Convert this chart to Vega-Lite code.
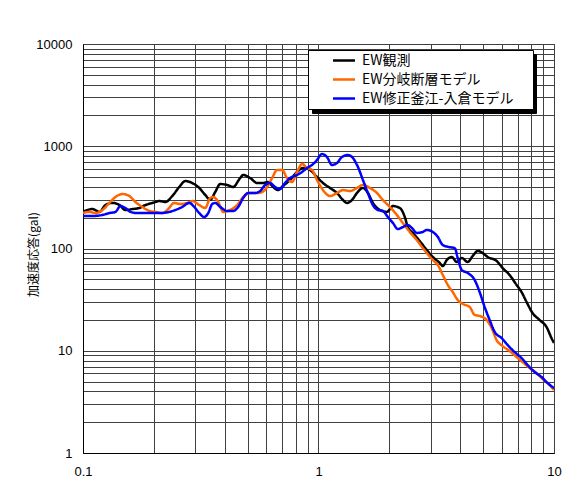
{
  "$schema": "https://vega.github.io/schema/vega-lite/v6.json",
  "width": 471,
  "height": 409,
  "autosize": {"type": "none"},
  "padding": {"left": 83, "top": 44, "right": 16, "bottom": 24},
  "background": "white",
  "config": {
    "view": {"stroke": "#404040", "strokeWidth": 1},
    "font": "Liberation Sans"
  },
  "data": {
    "values": [
      {"series": "EW観測", "period": 0.1, "acc": 229},
      {"series": "EW観測", "period": 0.1097, "acc": 243},
      {"series": "EW観測", "period": 0.1175, "acc": 228},
      {"series": "EW観測", "period": 0.1245, "acc": 266},
      {"series": "EW観測", "period": 0.1334, "acc": 279},
      {"series": "EW観測", "period": 0.1428, "acc": 266},
      {"series": "EW観測", "period": 0.1514, "acc": 238},
      {"series": "EW観測", "period": 0.1621, "acc": 243},
      {"series": "EW観測", "period": 0.1736, "acc": 249},
      {"series": "EW観測", "period": 0.184, "acc": 266},
      {"series": "EW観測", "period": 0.197, "acc": 279},
      {"series": "EW観測", "period": 0.2109, "acc": 291},
      {"series": "EW観測", "period": 0.2237, "acc": 285},
      {"series": "EW観測", "period": 0.2394, "acc": 326},
      {"series": "EW観測", "period": 0.2564, "acc": 400},
      {"series": "EW観測", "period": 0.2718, "acc": 457},
      {"series": "EW観測", "period": 0.2911, "acc": 437},
      {"series": "EW観測", "period": 0.3116, "acc": 391},
      {"series": "EW観測", "period": 0.3304, "acc": 334},
      {"series": "EW観測", "period": 0.3469, "acc": 300},
      {"series": "EW観測", "period": 0.3643, "acc": 357},
      {"series": "EW観測", "period": 0.3826, "acc": 427},
      {"series": "EW観測", "period": 0.4097, "acc": 418},
      {"series": "EW観測", "period": 0.4342, "acc": 400},
      {"series": "EW観測", "period": 0.4649, "acc": 489},
      {"series": "EW観測", "period": 0.4788, "acc": 523},
      {"series": "EW観測", "period": 0.5126, "acc": 489},
      {"series": "EW観測", "period": 0.5488, "acc": 437},
      {"series": "EW観測", "period": 0.5818, "acc": 437},
      {"series": "EW観測", "period": 0.6109, "acc": 447},
      {"series": "EW観測", "period": 0.6415, "acc": 400},
      {"series": "EW観測", "period": 0.6733, "acc": 373},
      {"series": "EW観測", "period": 0.707, "acc": 409},
      {"series": "EW観測", "period": 0.757, "acc": 468},
      {"series": "EW観測", "period": 0.8107, "acc": 560},
      {"series": "EW観測", "period": 0.8597, "acc": 613},
      {"series": "EW観測", "period": 0.9204, "acc": 586},
      {"series": "EW観測", "period": 0.9854, "acc": 500},
      {"series": "EW観測", "period": 1.0449, "acc": 437},
      {"series": "EW観測", "period": 1.1187, "acc": 391},
      {"series": "EW観測", "period": 1.1982, "acc": 349},
      {"series": "EW観測", "period": 1.2705, "acc": 298},
      {"series": "EW観測", "period": 1.3212, "acc": 279},
      {"series": "EW観測", "period": 1.3868, "acc": 298},
      {"series": "EW観測", "period": 1.4561, "acc": 349},
      {"series": "EW観測", "period": 1.544, "acc": 391},
      {"series": "EW観測", "period": 1.6209, "acc": 349},
      {"series": "EW観測", "period": 1.7022, "acc": 279},
      {"series": "EW観測", "period": 1.8226, "acc": 238},
      {"series": "EW観測", "period": 1.9516, "acc": 228},
      {"series": "EW観測", "period": 2.0688, "acc": 260},
      {"series": "EW観測", "period": 2.2148, "acc": 249},
      {"series": "EW観測", "period": 2.3256, "acc": 203},
      {"series": "EW観測", "period": 2.3947, "acc": 162},
      {"series": "EW観測", "period": 2.5147, "acc": 142},
      {"series": "EW観測", "period": 2.6924, "acc": 118},
      {"series": "EW観測", "period": 2.8826, "acc": 96.7},
      {"series": "EW観測", "period": 3.0573, "acc": 82.6},
      {"series": "EW観測", "period": 3.2734, "acc": 72.2},
      {"series": "EW観測", "period": 3.3709, "acc": 67.4},
      {"series": "EW観測", "period": 3.5054, "acc": 77.2},
      {"series": "EW観測", "period": 3.6807, "acc": 82.6},
      {"series": "EW観測", "period": 3.8637, "acc": 73.8},
      {"series": "EW観測", "period": 4.057, "acc": 80.8},
      {"series": "EW観測", "period": 4.3011, "acc": 73.8},
      {"series": "EW観測", "period": 4.5157, "acc": 84.5},
      {"series": "EW観測", "period": 4.741, "acc": 94.5},
      {"series": "EW観測", "period": 4.9774, "acc": 90.4},
      {"series": "EW観測", "period": 5.2267, "acc": 82.6},
      {"series": "EW観測", "period": 5.7071, "acc": 75.5},
      {"series": "EW観測", "period": 6.0506, "acc": 64.5},
      {"series": "EW観測", "period": 6.4775, "acc": 55.1},
      {"series": "EW観測", "period": 6.9357, "acc": 44.0},
      {"series": "EW観測", "period": 7.283, "acc": 37.5},
      {"series": "EW観測", "period": 7.6468, "acc": 30.0},
      {"series": "EW観測", "period": 8.1075, "acc": 23.4},
      {"series": "EW観測", "period": 8.6806, "acc": 20.0},
      {"series": "EW観測", "period": 9.2932, "acc": 17.1},
      {"series": "EW観測", "period": 9.7592, "acc": 13.3},
      {"series": "EW観測", "period": 10, "acc": 11.9},

      {"series": "EW分岐断層モデル", "period": 0.1, "acc": 222},
      {"series": "EW分岐断層モデル", "period": 0.1065, "acc": 228},
      {"series": "EW分岐断層モデル", "period": 0.113, "acc": 222},
      {"series": "EW分岐断層モデル", "period": 0.121, "acc": 238},
      {"series": "EW分岐断層モデル", "period": 0.1295, "acc": 279},
      {"series": "EW分岐断層モデル", "period": 0.1373, "acc": 319},
      {"series": "EW分岐断層モデル", "period": 0.147, "acc": 341},
      {"series": "EW分岐断層モデル", "period": 0.1574, "acc": 326},
      {"series": "EW分岐断層モデル", "period": 0.1669, "acc": 285},
      {"series": "EW分岐断層モデル", "period": 0.1787, "acc": 255},
      {"series": "EW分岐断層モデル", "period": 0.1913, "acc": 233},
      {"series": "EW分岐断層モデル", "period": 0.2029, "acc": 228},
      {"series": "EW分岐断層モデル", "period": 0.2172, "acc": 222},
      {"series": "EW分岐断層モデル", "period": 0.228, "acc": 238},
      {"series": "EW分岐断層モデル", "period": 0.2442, "acc": 279},
      {"series": "EW分岐断層モデル", "period": 0.2589, "acc": 272},
      {"series": "EW分岐断層モデル", "period": 0.2772, "acc": 279},
      {"series": "EW分岐断層モデル", "period": 0.2911, "acc": 291},
      {"series": "EW分岐断層モデル", "period": 0.3116, "acc": 266},
      {"series": "EW分岐断層モデル", "period": 0.3304, "acc": 249},
      {"series": "EW分岐断層モデル", "period": 0.3469, "acc": 312},
      {"series": "EW分岐断層モデル", "period": 0.3573, "acc": 319},
      {"series": "EW分岐断層モデル", "period": 0.3752, "acc": 285},
      {"series": "EW分岐断層モデル", "period": 0.394, "acc": 228},
      {"series": "EW分岐断層モデル", "period": 0.4217, "acc": 238},
      {"series": "EW分岐断層モデル", "period": 0.4515, "acc": 266},
      {"series": "EW分岐断層モデル", "period": 0.4788, "acc": 319},
      {"series": "EW分岐断層モデル", "period": 0.5126, "acc": 349},
      {"series": "EW分岐断層モデル", "period": 0.5488, "acc": 349},
      {"series": "EW分岐断層モデル", "period": 0.5762, "acc": 357},
      {"series": "EW分岐断層モデル", "period": 0.6048, "acc": 400},
      {"series": "EW分岐断層モデル", "period": 0.6353, "acc": 489},
      {"series": "EW分岐断層モデル", "period": 0.6668, "acc": 586},
      {"series": "EW分岐断層モデル", "period": 0.7002, "acc": 586},
      {"series": "EW分岐断層モデル", "period": 0.7351, "acc": 489},
      {"series": "EW分岐断層モデル", "period": 0.772, "acc": 447},
      {"series": "EW分岐断層モデル", "period": 0.8107, "acc": 560},
      {"series": "EW分岐断層モデル", "period": 0.8514, "acc": 671},
      {"series": "EW分岐断層モデル", "period": 0.894, "acc": 613},
      {"series": "EW分岐断層モデル", "period": 0.9387, "acc": 586},
      {"series": "EW分岐断層モデル", "period": 0.9854, "acc": 468},
      {"series": "EW分岐断層モデル", "period": 1.0449, "acc": 373},
      {"series": "EW分岐断層モデル", "period": 1.1187, "acc": 326},
      {"series": "EW分岐断層モデル", "period": 1.1982, "acc": 349},
      {"series": "EW分岐断層モデル", "period": 1.2705, "acc": 373},
      {"series": "EW分岐断層モデル", "period": 1.36, "acc": 365},
      {"series": "EW分岐断層モデル", "period": 1.4561, "acc": 391},
      {"series": "EW分岐断層モデル", "period": 1.544, "acc": 418},
      {"series": "EW分岐断層モデル", "period": 1.653, "acc": 391},
      {"series": "EW分岐断層モデル", "period": 1.7699, "acc": 349},
      {"series": "EW分岐断層モデル", "period": 1.8767, "acc": 298},
      {"series": "EW分岐断層モデル", "period": 2.0092, "acc": 255},
      {"series": "EW分岐断層モデル", "period": 2.1511, "acc": 213},
      {"series": "EW分岐断層モデル", "period": 2.2807, "acc": 178},
      {"series": "EW分岐断層モデル", "period": 2.442, "acc": 145},
      {"series": "EW分岐断層モデル", "period": 2.6148, "acc": 121},
      {"series": "EW分岐断層モデル", "period": 2.7723, "acc": 101},
      {"series": "EW分岐断層モデル", "period": 2.8826, "acc": 90.4},
      {"series": "EW分岐断層モデル", "period": 3.0573, "acc": 77.2},
      {"series": "EW分岐断層モデル", "period": 3.2099, "acc": 69.0},
      {"series": "EW分岐断層モデル", "period": 3.3709, "acc": 55.1},
      {"series": "EW分岐断層モデル", "period": 3.5399, "acc": 44.0},
      {"series": "EW分岐断層モデル", "period": 3.7154, "acc": 37.5},
      {"series": "EW分岐断層モデル", "period": 3.9016, "acc": 31.4},
      {"series": "EW分岐断層モデル", "period": 4.096, "acc": 28.7},
      {"series": "EW分岐断層モデル", "period": 4.3853, "acc": 26.8},
      {"series": "EW分岐断層モデル", "period": 4.6043, "acc": 22.4},
      {"series": "EW分岐断層モデル", "period": 4.8345, "acc": 21.9},
      {"series": "EW分岐断層モデル", "period": 5.176, "acc": 20.0},
      {"series": "EW分岐断層モデル", "period": 5.4355, "acc": 16.7},
      {"series": "EW分岐断層モデル", "period": 5.7071, "acc": 12.7},
      {"series": "EW分岐断層モデル", "period": 6.0506, "acc": 11.1},
      {"series": "EW分岐断層モデル", "period": 6.4775, "acc": 9.95},
      {"series": "EW分岐断層モデル", "period": 6.9357, "acc": 8.69},
      {"series": "EW分岐断層モデル", "period": 7.3543, "acc": 7.76},
      {"series": "EW分岐断層モデル", "period": 7.8736, "acc": 6.78},
      {"series": "EW分岐断層モデル", "period": 8.4297, "acc": 6.06},
      {"series": "EW分岐断層モデル", "period": 8.938, "acc": 5.29},
      {"series": "EW分岐断層モデル", "period": 9.5703, "acc": 4.62},
      {"series": "EW分岐断層モデル", "period": 10, "acc": 4.13},

      {"series": "EW修正釜江-入倉モデル", "period": 0.1, "acc": 208},
      {"series": "EW修正釜江-入倉モデル", "period": 0.1097, "acc": 208},
      {"series": "EW修正釜江-入倉モデル", "period": 0.121, "acc": 213},
      {"series": "EW修正釜江-入倉モデル", "period": 0.1295, "acc": 222},
      {"series": "EW修正釜江-入倉モデル", "period": 0.1373, "acc": 228},
      {"series": "EW修正釜江-入倉モデル", "period": 0.1442, "acc": 260},
      {"series": "EW修正釜江-入倉モデル", "period": 0.1514, "acc": 249},
      {"series": "EW修正釜江-入倉モデル", "period": 0.159, "acc": 228},
      {"series": "EW修正釜江-入倉モデル", "period": 0.1702, "acc": 222},
      {"series": "EW修正釜江-入倉モデル", "period": 0.1913, "acc": 222},
      {"series": "EW修正釜江-入倉モデル", "period": 0.2109, "acc": 222},
      {"series": "EW修正釜江-入倉モデル", "period": 0.2325, "acc": 228},
      {"series": "EW修正釜江-入倉モデル", "period": 0.2466, "acc": 238},
      {"series": "EW修正釜江-入倉モデル", "period": 0.264, "acc": 255},
      {"series": "EW修正釜江-入倉モデル", "period": 0.2826, "acc": 279},
      {"series": "EW修正釜江-入倉モデル", "period": 0.2968, "acc": 255},
      {"series": "EW修正釜江-入倉モデル", "period": 0.3116, "acc": 222},
      {"series": "EW修正釜江-入倉モデル", "period": 0.3272, "acc": 203},
      {"series": "EW修正釜江-入倉モデル", "period": 0.3402, "acc": 222},
      {"series": "EW修正釜江-入倉モデル", "period": 0.3537, "acc": 272},
      {"series": "EW修正釜江-入倉モデル", "period": 0.3643, "acc": 279},
      {"series": "EW修正釜江-入倉モデル", "period": 0.3826, "acc": 255},
      {"series": "EW修正釜江-入倉モデル", "period": 0.4097, "acc": 233},
      {"series": "EW修正釜江-入倉モデル", "period": 0.4342, "acc": 233},
      {"series": "EW修正釜江-入倉モデル", "period": 0.456, "acc": 255},
      {"series": "EW修正釜江-入倉モデル", "period": 0.4788, "acc": 312},
      {"series": "EW修正釜江-入倉モデル", "period": 0.5027, "acc": 349},
      {"series": "EW修正釜江-入倉モデル", "period": 0.5382, "acc": 349},
      {"series": "EW修正釜江-入倉モデル", "period": 0.565, "acc": 365},
      {"series": "EW修正釜江-入倉モデル", "period": 0.5933, "acc": 418},
      {"series": "EW修正釜江-入倉モデル", "period": 0.6229, "acc": 437},
      {"series": "EW修正釜江-入倉モデル", "period": 0.6538, "acc": 400},
      {"series": "EW修正釜江-入倉モデル", "period": 0.6864, "acc": 382},
      {"series": "EW修正釜江-入倉モデル", "period": 0.7209, "acc": 437},
      {"series": "EW修正釜江-入倉モデル", "period": 0.757, "acc": 489},
      {"series": "EW修正釜江-入倉モデル", "period": 0.8107, "acc": 523},
      {"series": "EW修正釜江-入倉モデル", "period": 0.8514, "acc": 560},
      {"series": "EW修正釜江-入倉モデル", "period": 0.894, "acc": 613},
      {"series": "EW修正釜江-入倉モデル", "period": 0.9387, "acc": 656},
      {"series": "EW修正釜江-入倉モデル", "period": 0.9854, "acc": 734},
      {"series": "EW修正釜江-入倉モデル", "period": 1.0347, "acc": 840},
      {"series": "EW修正釜江-入倉モデル", "period": 1.0863, "acc": 785},
      {"series": "EW修正釜江-入倉モデル", "period": 1.1408, "acc": 656},
      {"series": "EW修正釜江-入倉モデル", "period": 1.1982, "acc": 686},
      {"series": "EW修正釜江-入倉モデル", "period": 1.2581, "acc": 785},
      {"series": "EW修正釜江-入倉モデル", "period": 1.3335, "acc": 821},
      {"series": "EW修正釜江-入倉モデル", "period": 1.4003, "acc": 767},
      {"series": "EW修正釜江-入倉モデル", "period": 1.4705, "acc": 627},
      {"series": "EW修正釜江-入倉モデル", "period": 1.544, "acc": 468},
      {"series": "EW修正釜江-入倉モデル", "period": 1.6209, "acc": 349},
      {"series": "EW修正釜江-入倉モデル", "period": 1.7022, "acc": 266},
      {"series": "EW修正釜江-入倉モデル", "period": 1.7873, "acc": 238},
      {"series": "EW修正釜江-入倉モデル", "period": 1.8767, "acc": 233},
      {"series": "EW修正釜江-入倉モデル", "period": 1.9707, "acc": 203},
      {"series": "EW修正釜江-入倉モデル", "period": 2.0688, "acc": 178},
      {"series": "EW修正釜江-入倉モデル", "period": 2.1723, "acc": 155},
      {"series": "EW修正釜江-入倉モデル", "period": 2.2807, "acc": 162},
      {"series": "EW修正釜江-入倉モデル", "period": 2.3947, "acc": 170},
      {"series": "EW修正釜江-入倉モデル", "period": 2.4903, "acc": 159},
      {"series": "EW修正釜江-入倉モデル", "period": 2.6148, "acc": 142},
      {"series": "EW修正釜江-入倉モデル", "period": 2.7723, "acc": 145},
      {"series": "EW修正釜江-入倉モデル", "period": 2.8826, "acc": 152},
      {"series": "EW修正釜江-入倉モデル", "period": 3.0573, "acc": 145},
      {"series": "EW修正釜江-入倉モデル", "period": 3.2099, "acc": 130},
      {"series": "EW修正釜江-入倉モデル", "period": 3.3709, "acc": 108},
      {"series": "EW修正釜江-入倉モデル", "period": 3.6093, "acc": 103},
      {"series": "EW修正釜江-入倉モデル", "period": 3.7889, "acc": 101},
      {"series": "EW修正釜江-入倉モデル", "period": 3.9016, "acc": 80.8},
      {"series": "EW修正釜江-入倉モデル", "period": 4.057, "acc": 61.6},
      {"series": "EW修正釜江-入倉モデル", "period": 4.3011, "acc": 57.6},
      {"series": "EW修正釜江-入倉モデル", "period": 4.6043, "acc": 49.2},
      {"series": "EW修正釜江-入倉モデル", "period": 4.8345, "acc": 37.5},
      {"series": "EW修正釜江-入倉モデル", "period": 5.076, "acc": 26.8},
      {"series": "EW修正釜江-入倉モデル", "period": 5.33, "acc": 20.0},
      {"series": "EW修正釜江-入倉モデル", "period": 5.5967, "acc": 15.3},
      {"series": "EW修正釜江-入倉モデル", "period": 5.9916, "acc": 13.3},
      {"series": "EW修正釜江-入倉モデル", "period": 6.3533, "acc": 11.4},
      {"series": "EW修正釜江-入倉モデル", "period": 6.8012, "acc": 9.72},
      {"series": "EW修正釜江-入倉モデル", "period": 7.283, "acc": 8.49},
      {"series": "EW修正釜江-入倉モデル", "period": 7.7213, "acc": 7.26},
      {"series": "EW修正釜江-入倉モデル", "period": 8.2677, "acc": 6.2},
      {"series": "EW修正釜江-入倉モデル", "period": 8.8509, "acc": 5.54},
      {"series": "EW修正釜江-入倉モデル", "period": 9.3847, "acc": 4.84},
      {"series": "EW修正釜江-入倉モデル", "period": 10, "acc": 4.32}
    ]
  },
  "mark": {"type": "line", "strokeWidth": 2.5, "interpolate": "monotone", "clip": true},
  "encoding": {
    "x": {
      "field": "period",
      "type": "quantitative",
      "scale": {"type": "log", "domain": [0.1, 10], "nice": false},
      "axis": {
        "title": null,
        "values": [0.1, 0.2, 0.3, 0.4, 0.5, 0.6, 0.7, 0.8, 0.9, 1, 2, 3, 4, 5, 6, 7, 8, 9, 10],
        "labelExpr": "datum.value == 0.1 ? '0.1' : datum.value == 1 ? '1' : datum.value == 10 ? '10' : ''",
        "grid": true,
        "gridColor": "#404040",
        "gridWidth": 1,
        "gridOpacity": 1,
        "ticks": false,
        "domainColor": "#000000",
        "labelPadding": 12,
        "labelBaseline": "top",
        "labelFont": "Liberation Sans",
        "labelFontSize": 13,
        "labelColor": "#000000",
        "labelFlush": false,
        "labelOverlap": false
      }
    },
    "y": {
      "field": "acc",
      "type": "quantitative",
      "scale": {"type": "log", "domain": [1, 10000], "nice": false},
      "axis": {
        "title": "加速度応答(gal)",
        "titleFont": "Noto Sans CJK JP",
        "titleFontSize": 12,
        "titleFontWeight": "normal",
        "titleColor": "#000000",
        "titleX": -50,
        "titleY": 210,
        "titleBaseline": "middle",
        "titleAlign": "center",
        "values": [1, 2, 3, 4, 5, 6, 7, 8, 9, 10, 20, 30, 40, 50, 60, 70, 80, 90, 100, 200, 300, 400, 500, 600, 700, 800, 900, 1000, 2000, 3000, 4000, 5000, 6000, 7000, 8000, 9000, 10000],
        "labelExpr": "indexof([1, 10, 100, 1000, 10000], datum.value) >= 0 ? format(datum.value, 'd') : ''",
        "grid": true,
        "gridColor": "#404040",
        "gridWidth": 1,
        "gridOpacity": 1,
        "ticks": false,
        "domainColor": "#000000",
        "labelPadding": 11,
        "labelFont": "Liberation Sans",
        "labelFontSize": 13,
        "labelColor": "#000000",
        "labelFlush": false,
        "labelOverlap": false
      }
    },
    "color": {
      "field": "series",
      "type": "nominal",
      "scale": {
        "domain": ["EW観測", "EW分岐断層モデル", "EW修正釜江-入倉モデル"],
        "range": ["#000000", "#FF6600", "#0000FF"]
      },
      "legend": {
        "title": "\u3000",
        "titleOrient": "right",
        "titleFontSize": 14,
        "titlePadding": 18,
        "orient": "none",
        "legendX": 225,
        "legendY": 6,
        "fillColor": "#FFFFFF",
        "strokeColor": "#000000",
        "padding": 2,
        "clipHeight": 17,
        "rowPadding": 2,
        "symbolType": "stroke",
        "symbolSize": 484,
        "symbolStrokeWidth": 2.5,
        "symbolOffset": 21.5,
        "labelOffset": 5.5,
        "labelFont": "Noto Sans CJK JP",
        "labelFontSize": 14,
        "labelColor": "#000000",
        "zindex": 2
      }
    },
    "strokeDash": {
      "field": "series",
      "type": "nominal",
      "scale": {"range": [[1, 0], [1, 0], [1, 0]]},
      "legend": {
        "title": "\u3000",
        "titleOrient": "right",
        "titleFontSize": 14,
        "titlePadding": 18,
        "orient": "none",
        "legendX": 229,
        "legendY": 10,
        "fillColor": "#000000",
        "strokeColor": "#000000",
        "padding": 2,
        "clipHeight": 17,
        "rowPadding": 2,
        "symbolType": "stroke",
        "symbolSize": 484,
        "symbolStrokeWidth": 2.5,
        "symbolStrokeColor": "#000000",
        "symbolOffset": 21.5,
        "labelExpr": "''",
        "labelOffset": 155,
        "labelFontSize": 14,
        "zindex": 1
      }
    }
  }
}
